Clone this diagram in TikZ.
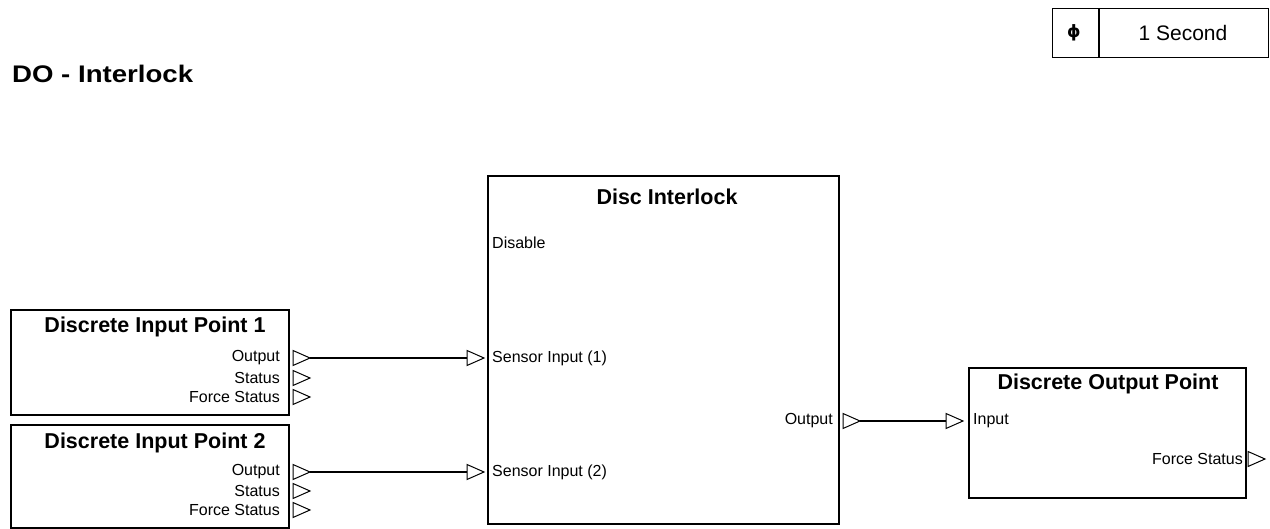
\documentclass[tikz,border=0pt]{standalone}
\usepackage{fontspec}
\setmainfont{Liberation Sans}
\newfontfamily\symfont{DejaVu Sans}
\usetikzlibrary{positioning}
\newcommand\outport[3]{% name, base x, center y
  \draw[port] (#2,#3-7.5) -- (#2+17,#3) -- (#2,#3+7.5) -- cycle;
  \coordinate (#1) at (#2+17,#3);}
\newcommand\inport[3]{% name, base x, center y
  \draw[port] (#2,#3-7.5) -- (#2+17,#3) -- (#2,#3+7.5) -- cycle;
  \coordinate (#1) at (#2,#3);}
\tikzset{
  blk/.style={draw=black, line width=2.2pt, minimum width=#1, inner sep=0pt, anchor=north west},
  port/.style={draw=black, line width=1pt, line join=miter},
  wire/.style={draw=black, line width=1.1pt},
  ttl/.style={inner sep=0pt, font=\fontsize{21.5}{25}\selectfont\bfseries},
  lbl/.style={inner sep=0pt, font=\fontsize{16}{19}\selectfont},
}
\begin{document}
\begin{tikzpicture}[x=1pt,y=-1pt]
\useasboundingbox (0,0) rectangle (1270,529);
\fill[white] (0,0) rectangle (1270,529);

% page title
\node[inner sep=0pt, anchor=west, font=\fontsize{24}{28}\selectfont\bfseries] (title) at (12,74) {\scalebox{1.15}[1]{DO - Interlock}};

% scan rate box
\node[draw=black, line width=1.4pt, minimum width=216pt, minimum height=49pt, inner sep=0pt, anchor=north west] (rate) at (1052,8) {};
\coordinate (rdivt) at (1099,8);
\coordinate (rdivb) at (1099,57);
\draw[line width=1.2pt] (rdivt) -- (rdivb);
\node[inner sep=0pt, font=\symfont\fontsize{17}{20}\selectfont\bfseries] (phi) at (1074,33) {ϕ};
\node[inner sep=0pt, font=\fontsize{21}{24}\selectfont] (rtext) at (1183,33) {1 Second};

% Discrete Input Point 1
\node[blk=278pt, minimum height=105pt] (dip1) at (10,309) {};
\node[ttl] (dip1t) at (155,327) {Discrete Input Point 1};
\node[lbl, anchor=east] (dip1o) at (280,358) {Output};
\node[lbl, anchor=east] (dip1s) at (280,378) {Status};
\node[lbl, anchor=east] (dip1f) at (280,397) {Force Status};
\outport{p1o}{293}{358}
\outport{p1s}{293}{378}
\outport{p1f}{293}{397}

% Discrete Input Point 2
\node[blk=278pt, minimum height=103pt] (dip2) at (10,424) {};
\node[ttl] (dip2t) at (155,443) {Discrete Input Point 2};
\node[lbl, anchor=east] (dip2o) at (280,472) {Output};
\node[lbl, anchor=east] (dip2s) at (280,491) {Status};
\node[lbl, anchor=east] (dip2f) at (280,510) {Force Status};
\outport{p2o}{293}{472}
\outport{p2s}{293}{491}
\outport{p2f}{293}{510}

% Disc Interlock
\node[blk=351pt, minimum height=348pt] (disc) at (487,175) {};
\node[ttl] (disct) at (667,197) {Disc Interlock};
\node[lbl, anchor=west] (dis) at (492,243) {Disable};
\node[lbl, anchor=west] (si1) at (492,358) {Sensor Input (1)};
\node[lbl, anchor=west] (si2) at (492,472) {Sensor Input (2)};
\node[lbl, anchor=east] (dout) at (833,421) {Output};
\inport{s1}{467}{358}
\inport{s2}{467}{472}
\outport{dop}{843}{421}

% Discrete Output Point
\node[blk=277pt, minimum height=130pt] (dopb) at (968,367) {};
\node[ttl] (dopt) at (1108,384) {Discrete Output Point};
\node[lbl, anchor=west] (inp) at (973,421) {Input};
\node[lbl, anchor=east] (dfs) at (1243,459) {Force Status};
\inport{oin}{946}{421}
\outport{ofs}{1248}{459}

% connectors
\draw[wire] (p1o) -- (s1);
\draw[wire] (p2o) -- (s2);
\draw[wire] (dop) -- (oin);
\end{tikzpicture}
\end{document}
